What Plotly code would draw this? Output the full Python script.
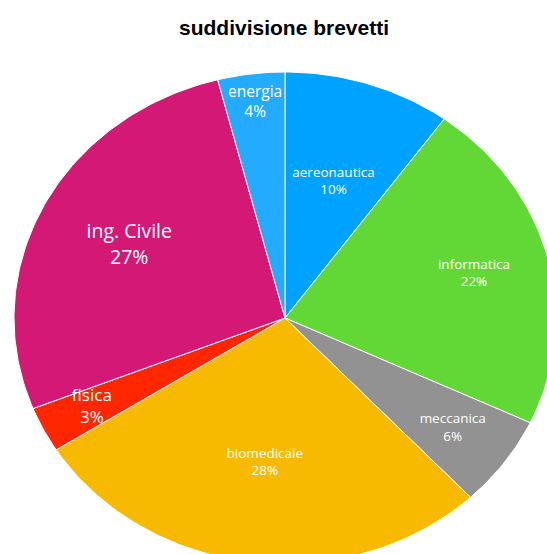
import numpy as np
import plotly.graph_objects as go

# ---- data ----
labels = ["aereonautica", "informatica", "meccanica", "biomedicale", "fisica", "ing. Civile", "energia"]
values = [10, 22, 6, 28, 3, 27, 4]
title_text = "suddivisione brevetti"

# ---- styles ----
colors = ["#00A2FF", "#61D836", "#929292", "#F8BA00", "#FF2600", "#D41876", "#23ABFF"]
label_font_sizes = [13.5, 13.5, 13.5, 13.5, 17, 19.5, 15.5]
label_radius = [0.58, 0.72, 0.765, 0.595, 0.80, 0.645, 0.88]

W, H = 547, 554
cx, cy = 285, 318      # pie centre (px)
rx, ry = 271, 246      # stretched pie radii (px)

total = float(sum(values))
fracs = np.array(values, dtype=float) / total
starts = np.concatenate([[0.0], np.cumsum(fracs)[:-1]])
ends = np.cumsum(fracs)

fig = go.Figure()
for lab, f0, f1, col in zip(labels, starts, ends, colors):
    n = max(int((f1 - f0) * 400), 8)
    th = np.linspace(f0, f1, n) * 2 * np.pi
    xs = np.concatenate([[0.0], np.sin(th), [0.0]])
    ys = np.concatenate([[0.0], np.cos(th), [0.0]])
    fig.add_trace(go.Scatter(
        x=xs, y=ys, mode="lines", fill="toself", fillcolor=col,
        line=dict(color="white", width=1), name=lab, hoverinfo="name",
    ))

mid = (starts + ends) / 2 * 2 * np.pi
lx = np.array(label_radius) * np.sin(mid)
ly = np.array(label_radius) * np.cos(mid)
texts = [f"{l}<br>{v / total * 100:.0f}%" for l, v in zip(labels, values)]
fig.add_trace(go.Scatter(
    x=lx, y=ly, mode="text", text=texts, textposition="middle center",
    textfont=dict(color="white", size=label_font_sizes, family="Open Sans"),
    hoverinfo="skip",
))

fig.add_annotation(
    text=f"<b>{title_text}</b>", xref="paper", yref="paper",
    x=283.5 / W, y=1 - 27 / H, xanchor="center", yanchor="middle",
    showarrow=False, font=dict(family="Liberation Sans, Arial", size=21, color="black"),
)

fig.update_xaxes(range=[-cx / rx, (W - cx) / rx], visible=False, fixedrange=True)
fig.update_yaxes(range=[-(H - cy) / ry, cy / ry], visible=False, fixedrange=True)
fig.update_layout(
    width=W, height=H, margin=dict(l=0, r=0, t=0, b=0),
    paper_bgcolor="white", plot_bgcolor="white", showlegend=False,
)
fig.write_html(
    "out.html",
    config={"displayModeBar": False},
    post_script="document.body.style.margin='0';document.body.style.overflow='hidden';",
)
